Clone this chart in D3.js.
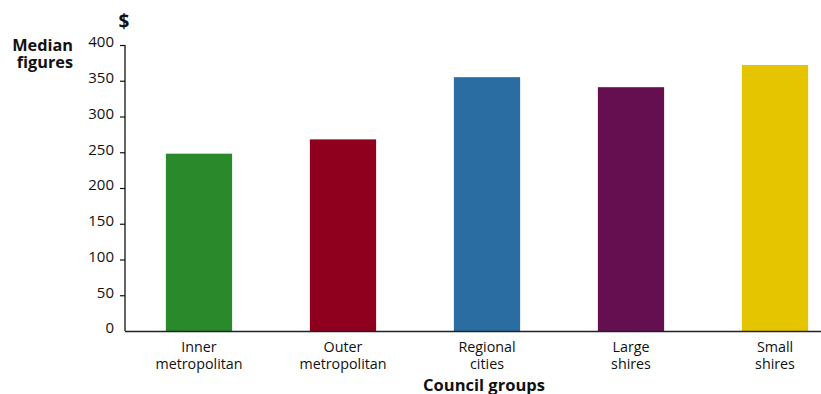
<!DOCTYPE html>
<html>
<head>
<meta charset="utf-8">
<script src="https://cdn.jsdelivr.net/npm/d3@7"></script>
<style>
  html, body { margin: 0; padding: 0; background: #fff; }
  svg text { font-family: "Open Sans", "Noto Sans", sans-serif; fill: #111; }
</style>
</head>
<body>
<svg id="chart" width="821" height="394"></svg>
<script>
// Median figures by council group ($)
const categories = [["Inner", "metropolitan"], ["Outer", "metropolitan"], ["Regional", "cities"], ["Large", "shires"], ["Small", "shires"]];
const values = [248, 268, 355, 341, 372];
const colors = ["#2a8a2b", "#8e001e", "#2a6da2", "#650f50", "#e4c500"];
const yTicks = [0, 50, 100, 150, 200, 250, 300, 350, 400];

const svg = d3.select("#chart");
const x0 = 125, yBottom = 331, yTop = 45;

const x = d3.scaleBand()
  .domain(d3.range(categories.length))
  .range([127, 847])
  .paddingInner(0.54)
  .paddingOuter(0.27);

const y = d3.scaleLinear().domain([0, 400]).range([yBottom, yTop]);

// bars
svg.append("g").selectAll("rect")
  .data(values)
  .join("rect")
  .attr("x", (d, i) => x(i))
  .attr("width", x.bandwidth())
  .attr("y", d => y(d))
  .attr("height", d => y(0) - y(d))
  .attr("fill", (d, i) => colors[i]);

// y axis
const yAxis = svg.append("g")
  .attr("transform", `translate(${x0},0)`)
  .call(d3.axisLeft(y).tickValues(yTicks).tickSize(5).tickPadding(5));
yAxis.select(".domain").attr("stroke", "#111").attr("stroke-width", 1.3)
  .attr("d", `M0,${yTop}V${yBottom}`);
yAxis.selectAll(".tick line").attr("stroke", "#111").attr("stroke-width", 1.2);
yAxis.selectAll(".tick").filter(d => d === 0).select("line").remove();
yAxis.selectAll(".tick text").style("font-size", "15px").attr("dy", "0.12em")
  .attr("x", -11);

// x axis baseline
svg.append("line")
  .attr("x1", x0).attr("x2", 821)
  .attr("y1", yBottom + 0.5).attr("y2", yBottom + 0.5)
  .attr("stroke", "#222").attr("stroke-width", 1.4);

// category labels, two lines each
const labels = svg.append("g");
[0, 1].forEach(line => {
  labels.selectAll(`text.l${line}`)
    .data(categories)
    .join("text")
    .attr("class", `l${line}`)
    .attr("text-anchor", "middle")
    .attr("x", (d, i) => x(i) + x.bandwidth() / 2)
    .attr("y", 352 + line * 17)
    .style("font-size", "14.3px")
    .text(d => d[line]);
});

// titles
svg.append("text").attr("x", 484).attr("y", 391).attr("text-anchor", "middle")
  .style("font-size", "16.5px").style("font-weight", "bold").text("Council groups");
svg.append("text").attr("x", 124).attr("y", 28).attr("text-anchor", "middle")
  .style("font-size", "19px").style("font-weight", "bold").text("$");
svg.append("text").attr("x", 73).attr("y", 51).attr("text-anchor", "end")
  .style("font-size", "16.3px").style("font-weight", "bold").text("Median");
svg.append("text").attr("x", 73).attr("y", 68).attr("text-anchor", "end")
  .style("font-size", "16.3px").style("font-weight", "bold").text("figures");
</script>
</body>
</html>
